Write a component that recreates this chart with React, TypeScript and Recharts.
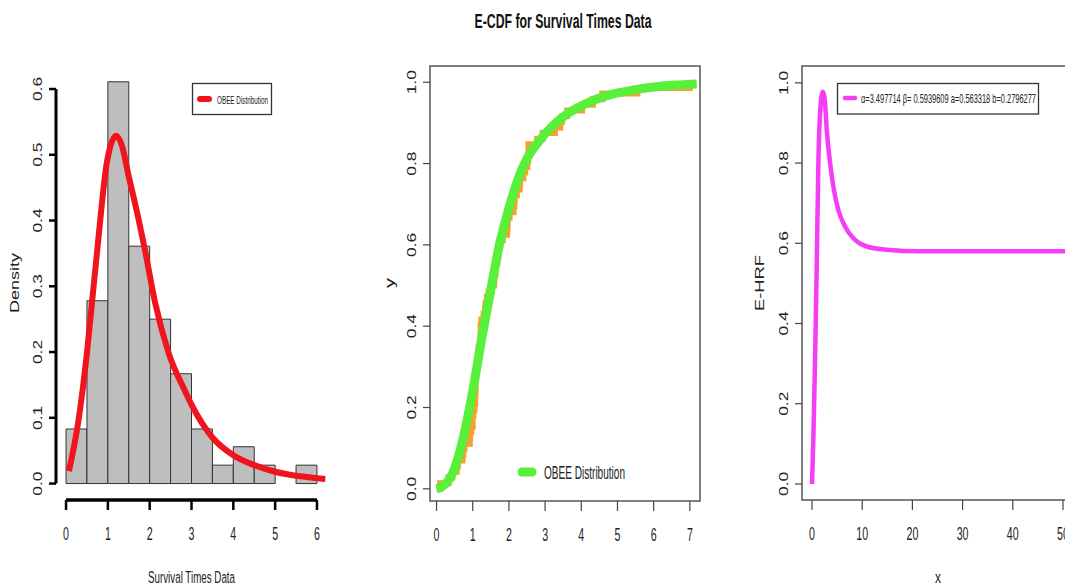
import { ComposedChart, Line, XAxis, YAxis, ReferenceArea, ReferenceLine } from 'recharts';

// histogram of survival times (density scale, bins of 0.5)
const binLower = [0, 0.5, 1, 1.5, 2, 2.5, 3, 3.5, 4, 4.5, 5, 5.5];
const binUpper = [0.5, 1, 1.5, 2, 2.5, 3, 3.5, 4, 4.5, 5, 5.5, 6];
const binDensity = [0.083, 0.278, 0.611, 0.361, 0.25, 0.167, 0.083, 0.028, 0.056, 0.028, 0, 0.028];

// fitted OBEE density
const pdfX = [0.07, 0.3, 0.5, 0.62, 0.74, 0.86, 0.94, 1.06, 1.2, 1.34, 1.5, 1.7, 1.9, 2.13, 2.45, 2.85, 3.0, 3.5, 4.0, 4.5, 5.0, 5.6, 6.2];
const pdfY = [0.019, 0.097, 0.199, 0.275, 0.351, 0.427, 0.473, 0.513, 0.529, 0.513, 0.467, 0.412, 0.351, 0.275, 0.199, 0.14, 0.12, 0.07, 0.043, 0.028, 0.018, 0.011, 0.007];

// sorted sample used for the empirical CDF
const survivalTimes = [
  0.1, 0.33, 0.44, 0.56, 0.59, 0.72, 0.74, 0.77, 0.92, 0.93, 0.96, 1, 1,
  1.02, 1.05, 1.07, 1.07, 1.08, 1.08, 1.08, 1.09, 1.12, 1.13, 1.15, 1.16, 1.2,
  1.21, 1.22, 1.22, 1.24, 1.3, 1.34, 1.36, 1.39, 1.44, 1.53, 1.59, 1.6, 1.63,
  1.63, 1.68, 1.71, 1.72, 1.76, 1.83, 1.95, 1.96, 1.97, 2.02, 2.13, 2.15, 2.16,
  2.22, 2.3, 2.31, 2.4, 2.45, 2.51, 2.53, 2.54, 2.54, 2.78, 2.93, 3.27, 3.42,
  3.47, 3.61, 4.02, 4.32, 4.58, 5.55, 7.0,
];

// fitted OBEE cdf
const cdfX = [0, 0.1, 0.25, 0.5, 0.75, 1.0, 1.25, 1.5, 1.75, 2.0, 2.26, 2.5, 2.86, 3.2, 3.5, 3.85, 4.24, 4.6, 4.98, 5.5, 6.08, 6.6, 7.19];
const cdfY = [0, 0.003, 0.012, 0.05, 0.13, 0.24, 0.37, 0.49, 0.605, 0.69, 0.764, 0.812, 0.858, 0.892, 0.915, 0.935, 0.952, 0.964, 0.973, 0.982, 0.989, 0.993, 0.996];

// hazard rate function
const hrfX = [0, 0.27, 0.6, 0.93, 1.26, 1.6, 2.13, 2.6, 2.93, 3.6, 4.25, 5.24, 6.57, 8.2, 10.9, 14.9, 21.5, 30, 40, 52];
const hrfY = [0, 0.118, 0.31, 0.54, 0.8, 0.924, 0.978, 0.95, 0.883, 0.8, 0.741, 0.683, 0.642, 0.613, 0.592, 0.584, 0.58, 0.58, 0.58, 0.58];

const histTicksX = [0, 1, 2, 3, 4, 5, 6];
const histTicksY = [0, 0.1, 0.2, 0.3, 0.4, 0.5, 0.6];
const ecdfTicksX = [0, 1, 2, 3, 4, 5, 6, 7];
const ecdfTicksY = [0, 0.2, 0.4, 0.6, 0.8, 1.0];
const hrfTicksX = [0, 10, 20, 30, 40, 50];
const hrfTicksY = [0, 0.2, 0.4, 0.6, 0.8, 1.0];

const FONT = '"Liberation Sans", Arial, Helvetica, sans-serif';

const zip = (xs: number[], ys: number[]) => xs.map((x, i) => ({ x, y: ys[i] }));

const pdfData = zip(pdfX, pdfY);
const cdfData = zip(cdfX, cdfY);
const hrfData = zip(hrfX, hrfY);
const ecdfData = [
  { x: 0, y: 0 },
  ...survivalTimes.map((t, i) => ({ x: t, y: (i + 1) / survivalTimes.length })),
];

const XTick = (props: any) => {
  const { x, y, payload } = props;
  return (
    <text
      transform={`translate(${x},${y + 23}) scale(0.56,1)`}
      textAnchor='middle'
      dominantBaseline='central'
      fontSize={19}
      fontFamily={FONT}
      fill='#222'
    >
      {payload.value}
    </text>
  );
};

const YTick = (props: any) => {
  const { x, y, payload } = props;
  return (
    <text
      transform={`translate(${x - 11},${y}) rotate(-90) scale(1.45,1)`}
      textAnchor='middle'
      dominantBaseline='central'
      fontSize={12}
      fontFamily={FONT}
      fill='#222'
    >
      {Number(payload.value).toFixed(1)}
    </text>
  );
};

// narrow horizontal label: squeezed with a transform so the box stays honest
type NarrowProps = {
  x: number;
  y: number;
  size: number;
  sx: number;
  width: number;
  anchor?: 'start' | 'middle';
  bold?: boolean;
  children: string;
};

const Narrow = ({ x, y, size, sx, width, anchor = 'start', bold, children }: NarrowProps) => (
  <text
    transform={`translate(${x},${y}) scale(${sx},1)`}
    textAnchor={anchor}
    fontSize={size}
    fontWeight={bold ? 'bold' : 'normal'}
    textLength={width / sx}
    lengthAdjust='spacingAndGlyphs'
    fill={bold ? '#111' : '#222'}
  >
    {children}
  </text>
);

function HistogramPanel() {
  const xDomain: [number, number] = [-0.24, 6.24];
  const yDomain: [number, number] = [-0.025, 0.635];
  return (
    <ComposedChart width={360} height={587} margin={{ top: 66, right: 33, bottom: 37, left: 0 }}>
      <XAxis
        dataKey='x'
        type='number'
        domain={xDomain}
        ticks={histTicksX}
        allowDataOverflow
        axisLine={false}
        tickLine={{ stroke: '#000', strokeWidth: 2.5 }}
        tickSize={10}
        tickMargin={0}
        height={50}
        tick={<XTick />}
      />
      <YAxis
        type='number'
        domain={yDomain}
        ticks={histTicksY}
        allowDataOverflow
        axisLine={false}
        tickLine={{ stroke: '#000', strokeWidth: 2.5 }}
        tickSize={7}
        tickMargin={0}
        width={56}
        tick={<YTick />}
      />
      {binLower.map((lo, i) =>
        binDensity[i] > 0 ? (
          <ReferenceArea
            key={lo}
            x1={lo}
            x2={binUpper[i]}
            y1={0}
            y2={binDensity[i]}
            fill='#bebebe'
            fillOpacity={1}
            stroke='#333'
            strokeWidth={1}
            ifOverflow='visible'
          />
        ) : null
      )}
      <ReferenceLine
        segment={[{ x: xDomain[0], y: 0 }, { x: xDomain[0], y: 0.6 }]}
        stroke='#000'
        strokeWidth={3}
        ifOverflow='visible'
      />
      <ReferenceLine
        segment={[{ x: 0, y: yDomain[0] }, { x: 6, y: yDomain[0] }]}
        stroke='#000'
        strokeWidth={3.5}
        ifOverflow='visible'
      />
      <Line
        data={pdfData}
        dataKey='y'
        type='monotone'
        stroke='#f0141e'
        strokeWidth={6}
        dot={false}
        isAnimationActive={false}
      />
    </ComposedChart>
  );
}

function EcdfPanel() {
  const xDomain: [number, number] = [-0.18, 7.28];
  const yDomain: [number, number] = [-0.03, 1.04];
  return (
    <ComposedChart width={360} height={587} margin={{ top: 66, right: 20, bottom: 36, left: 0 }}>
      <XAxis
        dataKey='x'
        type='number'
        domain={xDomain}
        ticks={ecdfTicksX}
        allowDataOverflow
        axisLine={false}
        tickLine={{ stroke: '#444', strokeWidth: 1.2 }}
        tickSize={10}
        tickMargin={0}
        height={50}
        tick={<XTick />}
      />
      <YAxis
        type='number'
        domain={yDomain}
        ticks={ecdfTicksY}
        allowDataOverflow
        axisLine={false}
        tickLine={{ stroke: '#444', strokeWidth: 1.2 }}
        tickSize={7}
        tickMargin={0}
        width={70}
        tick={<YTick />}
      />
      <ReferenceArea
        x1={xDomain[0]}
        x2={xDomain[1]}
        y1={yDomain[0]}
        y2={yDomain[1]}
        fill='none'
        stroke='#555'
        strokeWidth={1.5}
        ifOverflow='visible'
      />
      <Line
        data={ecdfData}
        dataKey='y'
        type='stepAfter'
        stroke='#f7a030'
        strokeWidth={6}
        dot={false}
        isAnimationActive={false}
      />
      <Line
        data={cdfData}
        dataKey='y'
        type='monotone'
        stroke='#58f03a'
        strokeWidth={9}
        dot={false}
        isAnimationActive={false}
      />
    </ComposedChart>
  );
}

function HazardPanel() {
  const xDomain: [number, number] = [-2, 52];
  const yDomain: [number, number] = [-0.04, 1.042];
  return (
    <ComposedChart width={360} height={587} margin={{ top: 66, right: 7, bottom: 37, left: 0 }}>
      <XAxis
        dataKey='x'
        type='number'
        domain={xDomain}
        ticks={hrfTicksX}
        allowDataOverflow
        axisLine={false}
        tickLine={{ stroke: '#444', strokeWidth: 1.2 }}
        tickSize={10}
        tickMargin={0}
        height={50}
        tick={<XTick />}
      />
      <YAxis
        type='number'
        domain={yDomain}
        ticks={hrfTicksY}
        allowDataOverflow
        axisLine={false}
        tickLine={{ stroke: '#444', strokeWidth: 1.2 }}
        tickSize={7}
        tickMargin={0}
        width={82}
        tick={<YTick />}
      />
      <ReferenceArea
        x1={xDomain[0]}
        x2={xDomain[1]}
        y1={yDomain[0]}
        y2={yDomain[1]}
        fill='none'
        stroke='#555'
        strokeWidth={1.5}
        ifOverflow='visible'
      />
      <Line
        data={hrfData}
        dataKey='y'
        type='monotone'
        stroke='#f53df5'
        strokeWidth={4.5}
        dot={false}
        isAnimationActive={false}
      />
    </ComposedChart>
  );
}

// title, axis titles and legends on top of the three panels
function Annotations() {
  return (
    <svg
      width={1065}
      height={587}
      style={{ position: 'absolute', left: 0, top: 0, pointerEvents: 'none' }}
      fontFamily={FONT}
    >
      <Narrow x={563} y={28} size={20} sx={0.61} width={177} anchor='middle' bold>
        E-CDF for Survival Times Data
      </Narrow>

      <text transform='translate(15,283) rotate(-90)' textAnchor='middle' dominantBaseline='central' fontSize={12} textLength={60} lengthAdjust='spacingAndGlyphs' fill='#222'>
        Density
      </text>
      <text transform='translate(390,283) rotate(-90)' textAnchor='middle' dominantBaseline='central' fontSize={12} textLength={10} lengthAdjust='spacingAndGlyphs' fill='#222'>
        y
      </text>
      <text transform='translate(760,283) rotate(-90)' textAnchor='middle' dominantBaseline='central' fontSize={12} textLength={56} lengthAdjust='spacingAndGlyphs' fill='#222'>
        E-HRF
      </text>
      <Narrow x={191.5} y={583} size={17} sx={0.57} width={87} anchor='middle'>
        Survival Times Data
      </Narrow>
      <Narrow x={938} y={583} size={17} sx={0.6} width={6} anchor='middle'>
        x
      </Narrow>

      <rect x={192.5} y={83.5} width={79} height={31} fill='#fff' stroke='#333' strokeWidth={1.3} />
      <line x1={200} y1={99} x2={209} y2={99} stroke='#f0141e' strokeWidth={6} strokeLinecap='round' />
      <Narrow x={217} y={103.5} size={11.5} sx={0.54} width={51}>
        OBEE Distribution
      </Narrow>

      <line x1={522} y1={472} x2={532} y2={472} stroke='#58f03a' strokeWidth={9} strokeLinecap='round' />
      <Narrow x={544} y={479} size={18} sx={0.545} width={81}>
        OBEE Distribution
      </Narrow>

      <rect x={837.5} y={83.5} width={201} height={30.5} fill='#fff' stroke='#333' strokeWidth={1.3} />
      <line x1={845} y1={98} x2={855} y2={98} stroke='#f53df5' strokeWidth={4.5} strokeLinecap='round' />
      <Narrow x={861} y={102.5} size={12} sx={0.6} width={175}>
        α=3.497714  β= 0.5939609  a=0.563318  b=0.2796277
      </Narrow>
    </svg>
  );
}

export default function App() {
  return (
    <div
      style={{
        position: 'absolute',
        left: 0,
        top: 0,
        width: 1065,
        height: 587,
        overflow: 'hidden',
        background: '#fff',
      }}
    >
      <div style={{ position: 'absolute', left: 0, top: 0 }}>
        <HistogramPanel />
      </div>
      <div style={{ position: 'absolute', left: 360, top: 0 }}>
        <EcdfPanel />
      </div>
      <div style={{ position: 'absolute', left: 720, top: 0 }}>
        <HazardPanel />
      </div>
      <Annotations />
    </div>
  );
}
